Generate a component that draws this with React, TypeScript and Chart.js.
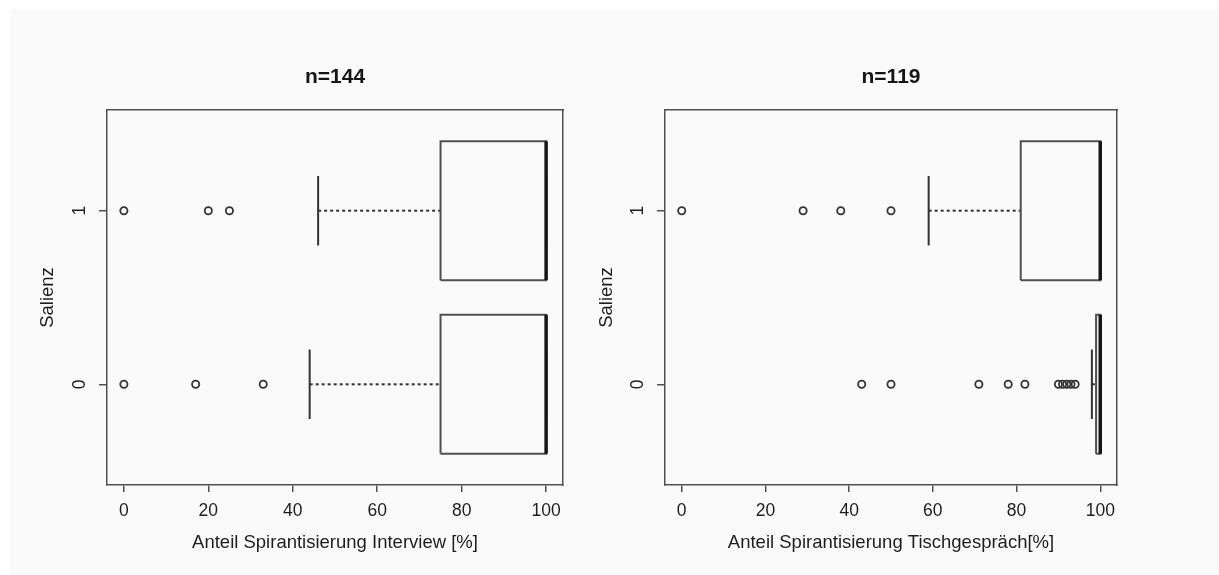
import React, { useEffect, useRef } from 'react';
import { Chart, registerables } from 'chart.js';

Chart.register(...registerables);

const FONT = '"Liberation Sans", Arial, Helvetica, sans-serif';
const INK = '#1e1e1e';
const LINE = '#505050';

// Groups (Salienz) and their positions on the y axis
const groups = ['0', '1'];
const groupPositions = [1, 2];
const xTicks = [0, 20, 40, 60, 80, 100];

// Panel 1: Interview (n=144) — index 0 = Salienz 0, index 1 = Salienz 1
const interviewQ1 = [75, 75];
const interviewMedian = [100, 100];
const interviewQ3 = [100, 100];
const interviewWhiskerLow = [44, 46];
const interviewWhiskerHigh = [100, 100];
const interviewOutliers0 = [0, 17, 33];
const interviewOutliers1 = [0, 20, 25];

// Panel 2: Tischgespräch (n=119)
const tischQ1 = [99, 81];
const tischMedian = [100, 100];
const tischQ3 = [100, 100];
const tischWhiskerLow = [98, 59];
const tischWhiskerHigh = [100, 100];
const tischOutliers0 = [43, 50, 71, 78, 82, 90, 91, 92, 93, 94];
const tischOutliers1 = [0, 29, 38, 50];

type Panel = {
  title: string;
  xLabel: string;
  q1: number[];
  med: number[];
  q3: number[];
  wl: number[];
  wh: number[];
  outliers: number[][];
};

const panels: Panel[] = [
  {
    title: 'n=144',
    xLabel: 'Anteil Spirantisierung Interview [%]',
    q1: interviewQ1,
    med: interviewMedian,
    q3: interviewQ3,
    wl: interviewWhiskerLow,
    wh: interviewWhiskerHigh,
    outliers: [interviewOutliers0, interviewOutliers1],
  },
  {
    title: 'n=119',
    xLabel: 'Anteil Spirantisierung Tischgespräch[%]',
    q1: tischQ1,
    med: tischMedian,
    q3: tischQ3,
    wl: tischWhiskerLow,
    wh: tischWhiskerHigh,
    outliers: [tischOutliers0, tischOutliers1],
  },
];

const BOX_HALF = 0.4;
const CAP_HALF = 0.2;

function lineDs(points: { x: number; y: number }[], color: string, width: number, dash: number[] = []) {
  return {
    type: 'scatter' as const,
    data: points,
    showLine: true,
    borderColor: color,
    borderWidth: width,
    borderDash: dash,
    borderCapStyle: 'butt' as const,
    borderJoinStyle: 'miter' as const,
    pointRadius: 0,
    fill: false,
    tension: 0,
  };
}

function buildDatasets(p: Panel) {
  const ds: any[] = [];
  groupPositions.forEach((pos, i) => {
    // median (first dataset => drawn on top)
    ds.push(lineDs([{ x: p.med[i], y: pos - BOX_HALF }, { x: p.med[i], y: pos + BOX_HALF }], '#151515', 3.5));
    // box
    ds.push(
      lineDs(
        [
          { x: p.q1[i], y: pos - BOX_HALF },
          { x: p.q3[i], y: pos - BOX_HALF },
          { x: p.q3[i], y: pos + BOX_HALF },
          { x: p.q1[i], y: pos + BOX_HALF },
          { x: p.q1[i], y: pos - BOX_HALF },
        ],
        LINE,
        2
      )
    );
    // whiskers
    ds.push(lineDs([{ x: p.wl[i], y: pos }, { x: p.q1[i], y: pos }], '#333333', 2, [3, 3]));
    ds.push(lineDs([{ x: p.q3[i], y: pos }, { x: p.wh[i], y: pos }], '#333333', 2, [3, 3]));
    // caps
    ds.push(lineDs([{ x: p.wl[i], y: pos - CAP_HALF }, { x: p.wl[i], y: pos + CAP_HALF }], '#333333', 2));
    ds.push(lineDs([{ x: p.wh[i], y: pos - CAP_HALF }, { x: p.wh[i], y: pos + CAP_HALF }], '#333333', 2));
    // outliers
    ds.push({
      type: 'scatter' as const,
      data: p.outliers[i].map((v) => ({ x: v, y: pos })),
      showLine: false,
      pointStyle: 'circle',
      pointRadius: 3.6,
      pointBorderWidth: 1.8,
      borderColor: '#333333',
      backgroundColor: 'rgba(0,0,0,0)',
      pointBackgroundColor: 'rgba(0,0,0,0)',
      pointBorderColor: '#333333',
    });
  });
  return ds;
}

type Layout = {
  width: number;
  yAxisWidth: number;
  rightAxisWidth: number;
  yTitlePad: number;
};

function BoxPanel({ panel, layout, left }: { panel: Panel; layout: Layout; left: number }) {
  const ref = useRef<HTMLCanvasElement | null>(null);
  useEffect(() => {
    if (!ref.current) return;
    const chart = new Chart(ref.current, {
      type: 'scatter',
      data: { datasets: buildDatasets(panel) },
      options: {
        responsive: false,
        animation: false,
        events: [],
        layout: { padding: 0 },
        plugins: { legend: { display: false }, tooltip: { enabled: false }, title: { display: false } },
        scales: {
          x: {
            type: 'linear',
            position: 'bottom',
            min: -4,
            max: 104,
            afterBuildTicks: (s: any) => {
              s.ticks = xTicks.map((v) => ({ value: v }));
            },
            afterFit: (s: any) => {
              s.height = 90;
            },
            ticks: {
              color: INK,
              font: { family: FONT, size: 17.5 },
              padding: 9,
              maxRotation: 0,
              minRotation: 0,
            },
            grid: {
              display: true,
              drawOnChartArea: false,
              drawTicks: true,
              tickLength: 7,
              tickColor: LINE,
              tickWidth: 1.5,
              color: LINE,
              lineWidth: 1.5,
            },
            border: { display: true, color: LINE, width: 1.5 },
            title: {
              display: true,
              text: panel.xLabel,
              color: INK,
              font: { family: FONT, size: 18.5 },
              padding: { top: 0, bottom: 21 },
            },
          },
          x2: {
            type: 'linear',
            axis: 'x',
            position: 'top',
            min: -4,
            max: 104,
            afterBuildTicks: (s: any) => {
              s.ticks = [];
            },
            afterFit: (s: any) => {
              s.height = 110;
            },
            ticks: { display: false },
            grid: { display: false },
            border: { display: true, color: LINE, width: 1.5 },
            title: {
              display: true,
              text: panel.title,
              color: '#151515',
              font: { family: FONT, size: 21, weight: 'bold' },
              padding: { top: 65, bottom: 0 },
            },
          },
          y: {
            type: 'linear',
            position: 'left',
            min: 0.42,
            max: 2.58,
            afterBuildTicks: (s: any) => {
              s.ticks = groupPositions.map((v) => ({ value: v }));
            },
            afterFit: (s: any) => {
              s.width = layout.yAxisWidth;
            },
            ticks: {
              color: INK,
              font: { family: FONT, size: 17.5 },
              padding: 14,
              minRotation: 90,
              maxRotation: 90,
              crossAlign: 'center',
              callback: (v: any) => {
                const idx = groupPositions.indexOf(Number(v));
                return idx >= 0 ? groups[idx] : '';
              },
            },
            grid: {
              display: true,
              drawOnChartArea: false,
              drawTicks: true,
              tickLength: 8,
              tickColor: LINE,
              tickWidth: 1.5,
              color: LINE,
              lineWidth: 1.5,
            },
            border: { display: true, color: LINE, width: 1.5 },
            title: {
              display: true,
              text: 'Salienz',
              color: INK,
              font: { family: FONT, size: 18.5 },
              padding: { top: layout.yTitlePad, bottom: 0 },
            },
          },
          y2: {
            type: 'linear',
            axis: 'y',
            position: 'right',
            min: 0.42,
            max: 2.58,
            afterBuildTicks: (s: any) => {
              s.ticks = [];
            },
            afterFit: (s: any) => {
              s.width = layout.rightAxisWidth;
            },
            ticks: { display: false },
            grid: { display: false },
            border: { display: true, color: LINE, width: 1.5 },
          },
        },
      } as any,
    });
    return () => chart.destroy();
  }, [panel, layout]);
  return (
    <canvas
      ref={ref}
      width={layout.width}
      height={575}
      style={{ position: 'absolute', left, top: 0, width: layout.width, height: 575 }}
    />
  );
}

const leftLayout: Layout = { width: 580, yAxisWidth: 107, rightAxisWidth: 17, yTitlePad: 37 };
const rightLayout: Layout = { width: 639, yAxisWidth: 85, rightAxisWidth: 102, yTitlePad: 16 };

export default function App() {
  return (
    <div style={{ position: 'absolute', left: 0, top: 0, width: 1219, height: 575, background: '#ffffff', overflow: 'hidden' }}>
      <div style={{ position: 'absolute', left: 11, top: 9, width: 1208, height: 566, background: '#fafafa' }} />
      <BoxPanel panel={panels[0]} layout={leftLayout} left={0} />
      <BoxPanel panel={panels[1]} layout={rightLayout} left={580} />
    </div>
  );
}
